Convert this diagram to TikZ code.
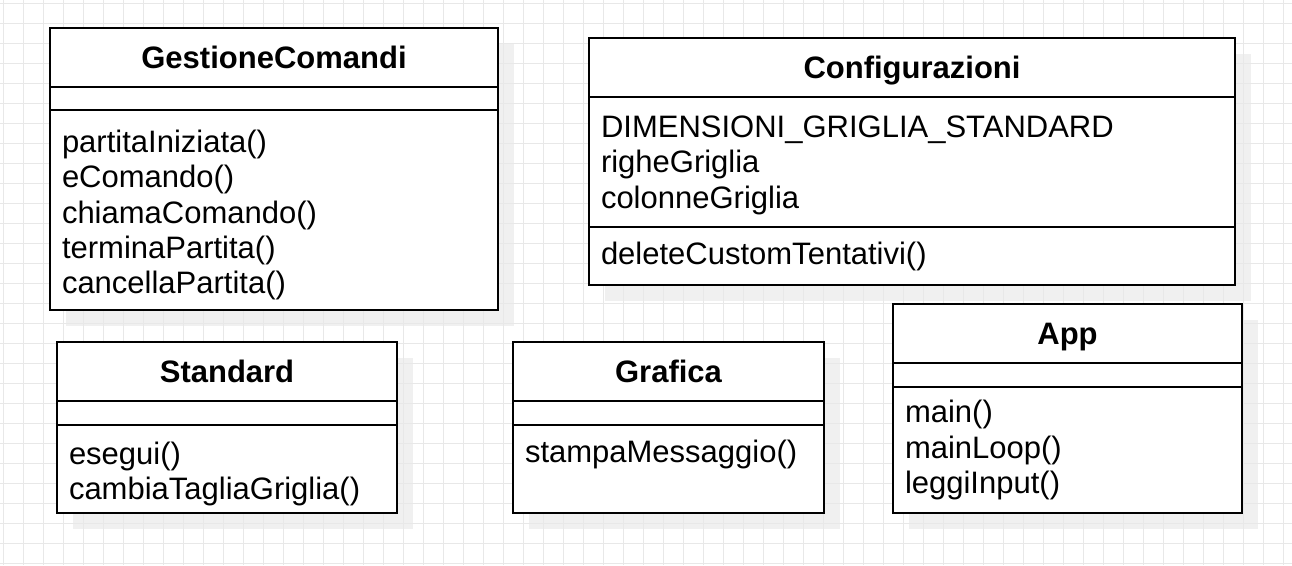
\documentclass[tikz,border=0pt]{standalone}
\usepackage{fontspec}
\setmainfont{Liberation Sans}
\usetikzlibrary{positioning, calc, backgrounds}
\definecolor{gridgray}{RGB}{232,232,232}

\begin{document}
\begin{tikzpicture}[x=1pt, y=-1pt,
    gridline/.style={gridgray, line width=1pt},
    classhead/.style={rectangle, draw, line width=2pt, fill=white, outer sep=0pt,
                minimum height=59pt, text height=22.2pt, text depth=0pt, align=center,
                font=\fontsize{31}{35}\selectfont\bfseries},
    members/.style={rectangle, draw, line width=2pt, fill=white, outer sep=0pt,
                inner xsep=12pt, inner ysep=0pt, align=left, font=\fontsize{31}{35.3}\selectfont},
    dropshade/.style={fill=black, opacity=0.06}]
    \useasboundingbox (0,0) rectangle (1292,565);
    % grid
    \foreach \gx in {3,23,...,1283} \draw[gridline] (\gx,0) -- (\gx,565);
    \foreach \gy in {3,23,...,563} \draw[gridline] (0,\gy) -- (1292,\gy);

    % GestioneComandi
    \node[classhead, minimum width=448pt, anchor=north west] (gc) at (50,28) {GestioneComandi};
    \node[members, text width=424pt, minimum height=23pt, below=0pt of gc] (gc-a) {};
    \node[members, text width=424pt, minimum height=200pt, text height=32.6pt, below=0pt of gc-a] (gc-m)
        {partitaIniziata()\\eComando()\\chiamaComando()\\terminaPartita()\\cancellaPartita()};

    % Configurazioni
    \node[classhead, minimum width=646pt, anchor=north west] (conf) at (589,38) {Configurazioni};
    \node[members, text width=622pt, minimum height=130pt, text height=28.2pt, below=0pt of conf] (conf-a)
        {DIMENSIONI\_GRIGLIA\_STANDARD\\righeGriglia\\colonneGriglia};
    \node[members, text width=622pt, minimum height=58pt, below=0pt of conf-a] (conf-m)
        {deleteCustomTentativi()};

    % Standard
    \node[classhead, minimum width=340pt, anchor=north west] (std) at (57,342) {Standard};
    \node[members, text width=316pt, minimum height=24pt, below=0pt of std] (std-a) {};
    \node[members, text width=316pt, minimum height=88pt, text height=32.6pt, below=0pt of std-a] (std-m)
        {esegui()\\cambiaTagliaGriglia()};

    % Grafica
    \node[classhead, minimum width=311pt, anchor=north west] (graf) at (513,342) {Grafica};
    \node[members, text width=287pt, minimum height=24pt, below=0pt of graf] (graf-a) {};
    \node[members, text width=287pt, minimum height=88pt, text height=32.6pt, below=0pt of graf-a] (graf-m)
        {stampaMessaggio()\\\strut};

    % App
    \node[classhead, minimum width=349pt, anchor=north west] (app) at (893,304) {App};
    \node[members, text width=325pt, minimum height=24pt, below=0pt of app] (app-a) {};
    \node[members, text width=325pt, minimum height=126pt, below=0pt of app-a] (app-m)
        {main()\\mainLoop()\\leggiInput()};

    % shadows
    \begin{scope}[on background layer]
        \foreach \cls in {gc, conf, std, graf, app}
            \fill[dropshade] ($(\cls.north west)+(16,16)$) rectangle ($(\cls-m.south east)+(16,16)$);
    \end{scope}
\end{tikzpicture}
\end{document}
